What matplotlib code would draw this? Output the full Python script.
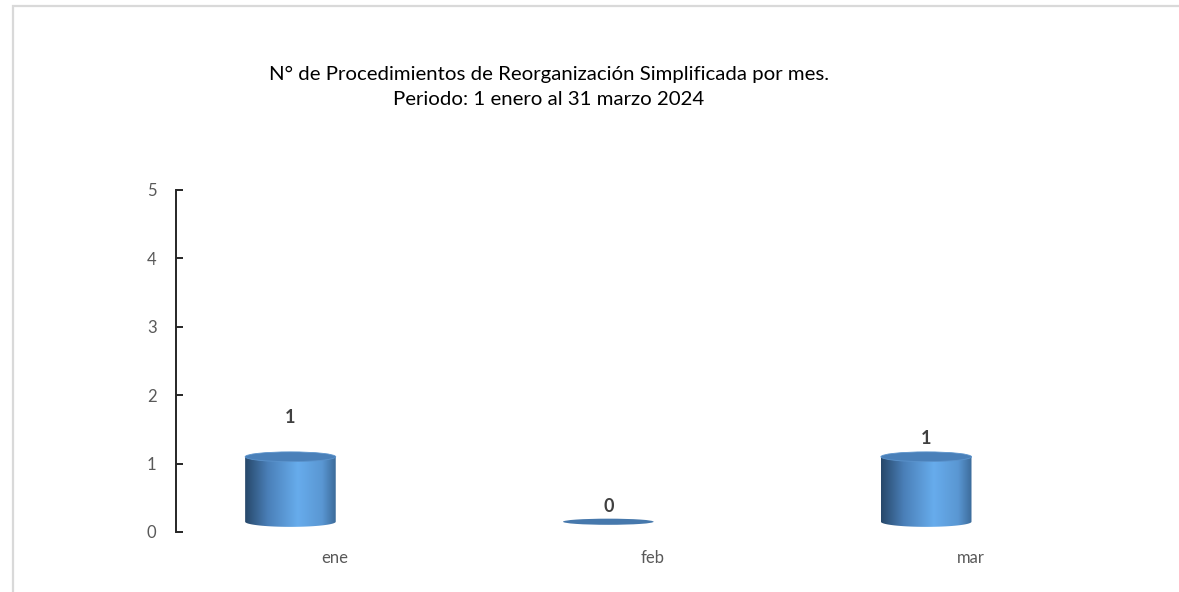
import matplotlib
matplotlib.use('Agg')
import matplotlib.pyplot as plt
import numpy as np
from matplotlib.patches import Ellipse, Rectangle, PathPatch
from matplotlib.path import Path
from matplotlib.colors import LinearSegmentedColormap

plt.rcParams['font.family'] = ['Lato', 'DejaVu Sans']

months = ['ene', 'feb', 'mar']
counts = [1, 0, 1]
label_y = [1.68, 0.38, 1.37]   # where the reference puts the value labels

title = 'N° de Procedimientos de Reorganización Simplificada por mes.\nPeriodo: 1 enero al 31 marzo 2024'

W, H = 1179, 592
fig = plt.figure(figsize=(W / 100, H / 100), dpi=100)
fig.patch.set_facecolor('white')

# light grey frame round the chart area
fig.patches.append(Rectangle((13 / W, -0.2), 1.2, 1.2 - 6 / H,
                             transform=fig.transFigure, fill=False,
                             edgecolor='#d9d9d9', linewidth=1.6))

ax = fig.add_axes([176 / W, 60 / H, 960 / W, 342 / H])
ax.set_xlim(-0.36, 2.66)
ax.set_ylim(0, 5)

body_cmap = LinearSegmentedColormap.from_list('cyl', [
    (0.0, '#27486a'), (0.25, '#4a7fb8'), (0.58, '#67acec'),
    (0.85, '#5a97d3'), (1.0, '#3c6b9a')])

bw = 0.285      # cylinder width in x units
eh = 0.15       # ellipse height in y units
base = 0.15

grad = np.linspace(0, 1, 256).reshape(1, -1)
for i, v in enumerate(counts):
    x0, x1 = i - bw / 2, i + bw / 2
    top = base + v * 0.95
    if v > 0:
        # body: rectangle with rounded (half ellipse) bottom
        t = np.linspace(np.pi, 2 * np.pi, 40)
        bottom = np.column_stack([i + bw / 2 * np.cos(t), base + eh / 2 * np.sin(t)])
        verts = np.vstack([[x0, top], bottom, [x1, top], [x0, top]])
        patch = PathPatch(Path(verts), facecolor='none', edgecolor='none')
        ax.add_patch(patch)
        im = ax.imshow(grad, cmap=body_cmap, aspect='auto',
                       extent=[x0, x1, base - eh, top], zorder=2)
        im.set_clip_path(patch)
        ax.add_patch(Ellipse((i, top), bw, eh * 0.95, facecolor='#4a80b9',
                             edgecolor='#5b93cc', linewidth=0.6, zorder=3))
    else:
        ax.add_patch(Ellipse((i, base), bw, eh * 0.6, facecolor='#4678ac',
                             edgecolor='none', zorder=3))
    ax.text(i, label_y[i], str(v), ha='center', va='center', fontsize=13,
            fontweight='bold', color='#404040')

ax.set_xticks(np.arange(len(months)) + 0.14)
ax.set_xticklabels(months)
ax.tick_params(axis='x', length=0, pad=13, labelsize=12, labelcolor='#595959')
ax.set_yticks(range(6))
ax.tick_params(axis='y', direction='in', length=5, width=1.4, color='#262626',
               pad=14, labelsize=12, labelcolor='#595959')
for s in ['top', 'right', 'bottom']:
    ax.spines[s].set_visible(False)
ax.spines['left'].set_color('#262626')
ax.spines['left'].set_linewidth(1.4)
ax.patch.set_alpha(0)

fig.text(549 / W, 1 - 87 / H, title, ha='center', va='center', fontsize=14.7,
         color='black', linespacing=1.6)

fig.savefig('out.png', dpi=100)
